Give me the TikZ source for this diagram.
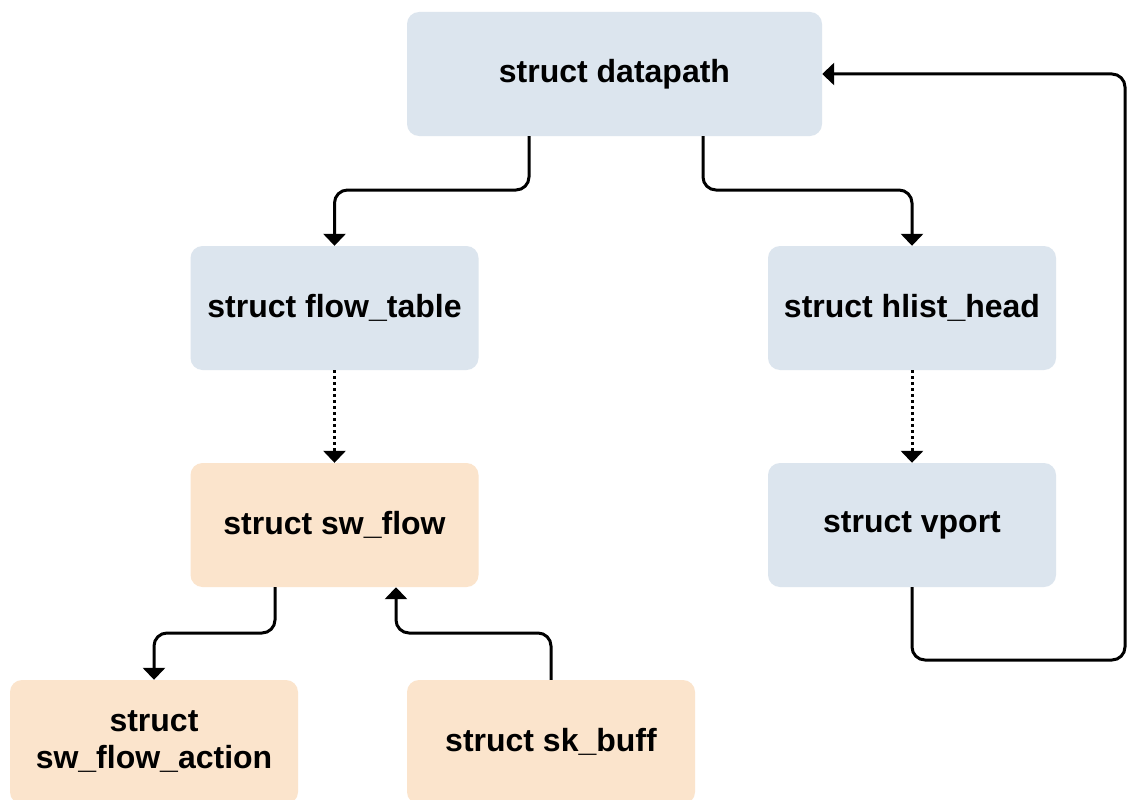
\documentclass[tikz,border=0pt]{standalone}
\usepackage{fontspec}
\setmainfont{Liberation Sans}
\usetikzlibrary{arrows.meta}
\definecolor{boxblue}{HTML}{DCE5EE}
\definecolor{boxpeach}{HTML}{FBE4CC}
\begin{document}
\begin{tikzpicture}[x=1pt,y=-1pt,
  box/.style={rounded corners=12pt, minimum width=288pt, minimum height=124pt, inner sep=0pt,
    font=\bfseries\fontsize{32}{37}\selectfont, align=center},
  bluebox/.style={box, fill=boxblue},
  peachbox/.style={box, fill=boxpeach},
  conn/.style={line width=3pt, rounded corners=13pt, -{Triangle[width=22pt,length=12pt]}},
  dotconn/.style={line width=3pt, dash pattern=on 3pt off 3pt, -{Triangle[width=22pt,length=12pt]}}]
\useasboundingbox (0,0) rectangle (1127,800);
\fill[white] (0,0) rectangle (1127,800);
\clip (0,0) rectangle (1127,800);
\node[bluebox, minimum width=415pt] (dp) at (614.5,74) {struct datapath};
\node[bluebox] (ft) at (334.5,308) {struct flow\_table};
\node[bluebox] (hh) at (912,308) {struct hlist\_head};
\node[peachbox] (sf) at (334.5,525) {struct sw\_flow};
\node[bluebox] (vp) at (912,525) {struct vport};
\node[peachbox] (sfa) at (154,742) {struct\\sw\_flow\_action};
\node[peachbox] (skb) at (551,742) {struct sk\_buff};
\coordinate (c1) at (529,190);
\coordinate (c2) at (703,190);
\coordinate (c3) at (275,633);
\coordinate (c4) at (396,633);
\coordinate (c5) at (1125,660);
\draw[conn] (dp.south -| c1) -- (c1) -| (ft.north);
\draw[conn] (dp.south -| c2) -- (c2) -| (hh.north);
\draw[dotconn] (ft.south) -- (sf.north);
\draw[dotconn] (hh.south) -- (vp.north);
\draw[conn] (sf.south -| c3) -- (c3) -| (sfa.north);
\draw[conn] (skb.north) |- (c4) -- (sf.south -| c4);
\draw[conn] (vp.south) |- (c5) |- (dp.east);
\end{tikzpicture}
\end{document}
